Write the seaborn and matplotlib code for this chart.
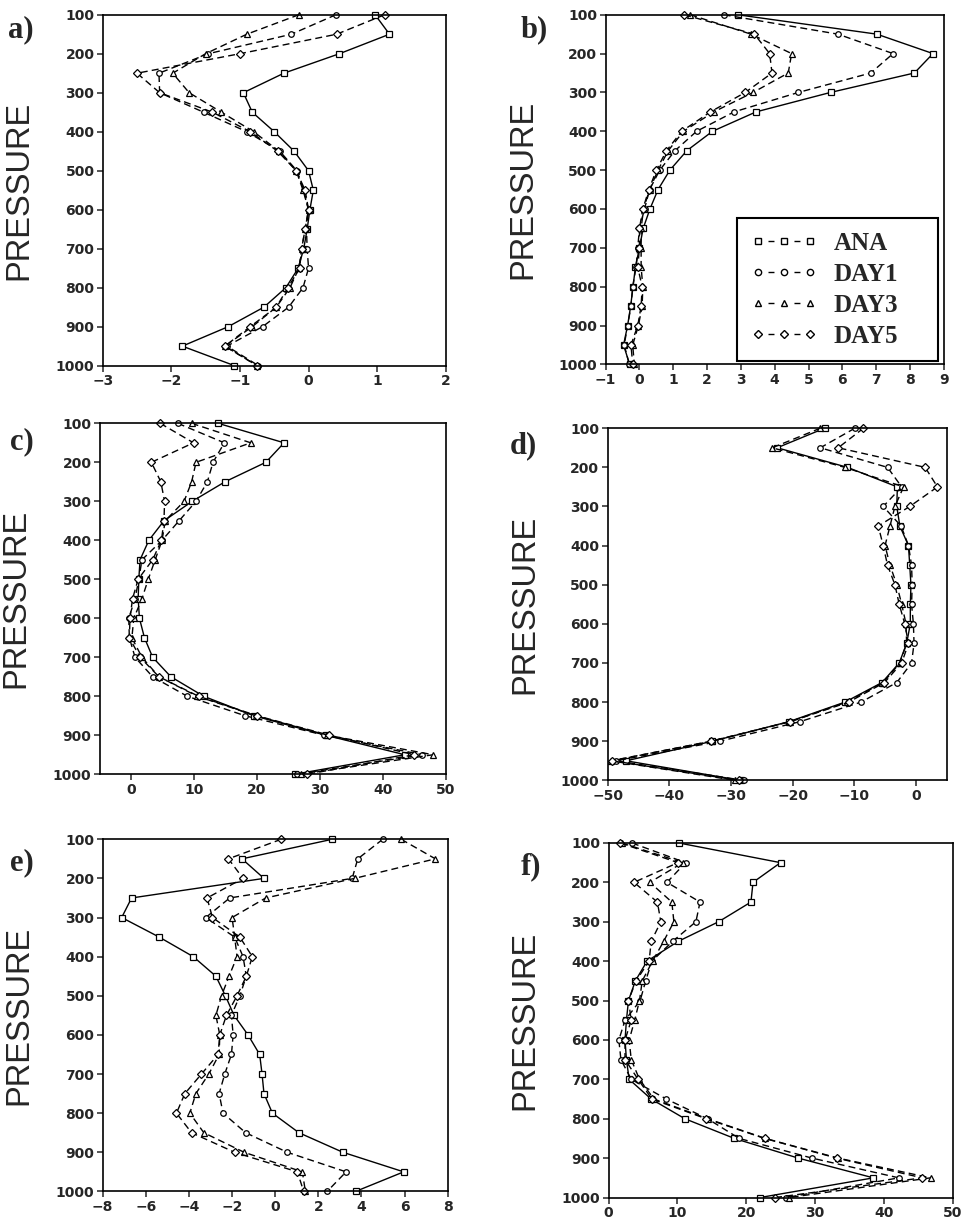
import numpy as np
import pandas as pd
import matplotlib
matplotlib.use("Agg")
import matplotlib.pyplot as plt
from matplotlib.lines import Line2D
import seaborn as sns

# pressure levels (hPa)
pressure = [100, 150, 200, 250, 300, 350, 400, 450, 500, 550,
            600, 650, 700, 750, 800, 850, 900, 950, 1000]
series_names = ["ANA", "DAY1", "DAY3", "DAY5"]

# panel a
a_ana = [0.97, 1.18, 0.45, -0.36, -0.95, -0.82, -0.5, -0.21, 0.0, 0.07,
         0.02, -0.02, -0.07, -0.15, -0.33, -0.65, -1.17, -1.84, -1.08]
a_day1 = [0.40, -0.25, -1.46, -2.18, -2.17, -1.53, -0.9, -0.42, -0.17, -0.07,
          0.0, -0.03, -0.02, 0.0, -0.08, -0.29, -0.67, -1.19, -0.73]
a_day3 = [-0.14, -0.9, -1.5, -1.98, -1.74, -1.27, -0.8, -0.43, -0.18, -0.08,
          0.0, -0.05, -0.1, -0.14, -0.27, -0.47, -0.82, -1.22, -0.75]
a_day5 = [1.11, 0.41, -1.0, -2.5, -2.17, -1.4, -0.85, -0.45, -0.18, -0.05,
          0.0, -0.05, -0.1, -0.13, -0.3, -0.47, -0.85, -1.22, -0.75]

# panel b
b_ana = [2.9, 7.02, 8.68, 8.13, 5.65, 3.45, 2.16, 1.4, 0.9, 0.55,
         0.31, 0.11, 0.0, -0.12, -0.19, -0.26, -0.35, -0.47, -0.29]
b_day1 = [2.49, 5.87, 7.5, 6.84, 4.7, 2.8, 1.69, 1.05, 0.6, 0.3,
          0.15, 0.0, -0.05, -0.1, -0.2, -0.25, -0.35, -0.45, -0.3]
b_day3 = [1.5, 3.3, 4.5, 4.4, 3.36, 2.2, 1.3, 0.85, 0.55, 0.3,
          0.12, 0.05, 0.05, 0.05, 0.1, 0.08, -0.03, -0.2, -0.15]
b_day5 = [1.32, 3.4, 3.85, 3.92, 3.13, 2.1, 1.25, 0.8, 0.5, 0.28,
          0.1, 0.0, 0.0, -0.05, 0.08, 0.05, -0.05, -0.25, -0.2]

# panel c
c_ana = [13.8, 24.3, 21.4, 14.9, 9.7, 5.2, 2.8, 1.4, 1.2, 1.1,
         1.3, 2.1, 3.4, 6.3, 11.5, 19.5, 30.9, 43.5, 26.0]
c_day1 = [7.4, 14.8, 13.0, 12.1, 10.3, 7.6, 4.9, 1.7, 1.2, 0.6,
          -0.4, -0.3, 0.6, 3.4, 8.9, 18.1, 30.7, 46.3, 26.4]
c_day3 = [9.6, 19.0, 10.3, 9.6, 8.4, 5.4, 4.9, 3.8, 2.7, 1.7,
          0.4, 0.1, 1.7, 4.4, 10.5, 19.8, 31.2, 48.0, 27.0]
c_day5 = [4.6, 9.9, 3.2, 4.7, 5.3, 5.2, 4.8, 3.4, 1.1, 0.2,
          -0.2, -0.3, 1.4, 4.4, 10.7, 20.0, 31.5, 45.0, 28.0]

# panel d
d_ana = [-14.8, -22.5, -11.1, -3.0, -3.1, -2.6, -1.2, -1.0, -0.8, -0.9,
         -0.9, -1.5, -2.7, -5.5, -11.5, -20.6, -33.0, -47.0, -28.4]
d_day1 = [-9.9, -15.5, -4.6, -2.3, -5.3, -2.4, -1.2, -0.7, -0.6, -0.7,
          -0.4, -0.3, -0.7, -3.1, -8.9, -18.8, -31.8, -48.6, -27.9]
d_day3 = [-15.5, -23.3, -11.5, -2.0, -3.4, -4.2, -5.0, -4.2, -3.1, -2.3,
          -1.6, -1.5, -2.6, -5.3, -11.2, -20.4, -33.1, -49.5, -29.3]
d_day5 = [-8.5, -12.6, 1.5, 3.5, -1.0, -6.1, -5.3, -4.6, -3.4, -2.7,
          -1.8, -1.2, -2.3, -5.1, -10.9, -20.4, -33.3, -49.2, -28.7]

# panel e
e_ana = [2.65, -1.54, -0.52, -6.66, -7.12, -5.38, -3.8, -2.75, -2.31, -1.91,
         -1.26, -0.72, -0.61, -0.52, -0.13, 1.1, 3.14, 5.96, 3.73]
e_day1 = [4.99, 3.83, 3.57, -2.11, -3.22, -1.88, -1.49, -1.34, -1.64, -2.03,
          -1.95, -2.03, -2.34, -2.6, -2.42, -1.37, 0.56, 3.29, 2.41]
e_day3 = [5.84, 7.43, 3.68, -0.44, -2.0, -1.88, -1.77, -2.14, -2.49, -2.75,
          -2.57, -2.6, -3.08, -3.68, -3.96, -3.31, -1.44, 1.26, 1.4]
e_day5 = [0.28, -2.17, -1.49, -3.16, -2.91, -1.64, -1.06, -1.34, -1.77, -2.26,
          -2.57, -2.65, -3.42, -4.19, -4.58, -3.88, -1.88, 1.03, 1.32]

# panel f
f_ana = [10.2, 25.0, 21.0, 20.7, 16.0, 10.1, 5.6, 3.9, 2.9, 2.6,
         2.4, 2.6, 3.0, 6.2, 11.1, 18.3, 27.6, 38.5, 22.0]
f_day1 = [3.4, 11.2, 8.5, 13.3, 12.7, 9.3, 6.3, 5.4, 4.6, 2.4,
          1.5, 1.8, 3.3, 8.4, 14.4, 19.0, 29.6, 42.2, 25.8]
f_day3 = [1.9, 10.8, 6.0, 9.2, 9.5, 8.0, 6.4, 4.9, 4.5, 3.8,
          3.0, 3.3, 4.5, 6.6, 14.4, 22.8, 33.4, 46.8, 26.2]
f_day5 = [1.7, 10.1, 3.7, 7.1, 7.6, 6.2, 5.9, 4.0, 2.9, 3.3,
          2.4, 2.4, 4.3, 6.3, 14.2, 22.7, 33.2, 45.6, 24.2]

panel_labels = ["a)", "b)", "c)", "d)", "e)", "f)"]
panel_data = [
    [a_ana, a_day1, a_day3, a_day5],
    [b_ana, b_day1, b_day3, b_day5],
    [c_ana, c_day1, c_day3, c_day5],
    [d_ana, d_day1, d_day3, d_day5],
    [e_ana, e_day1, e_day3, e_day5],
    [f_ana, f_day1, f_day3, f_day5],
]
xlims = [(-3, 2), (-1, 9), (-5, 50), (-50, 5), (-8, 8), (0, 50)]
xticks = [np.arange(-3, 3, 1), np.arange(-1, 10, 1), np.arange(0, 51, 10),
          np.arange(-50, 1, 10), np.arange(-8, 9, 2), np.arange(0, 51, 10)]

sns.set_style("ticks")

markers = {"ANA": "s", "DAY1": "o", "DAY3": "^", "DAY5": "D"}
dashes = {"ANA": "", "DAY1": (5, 3), "DAY3": (5, 3), "DAY5": (5, 3)}

fig = plt.figure(figsize=(9.69, 12.27), dpi=100)
axes_pos = [
    [0.106, 0.702, 0.354, 0.286],
    [0.625, 0.703, 0.349, 0.285],
    [0.103, 0.369, 0.357, 0.286],
    [0.627, 0.364, 0.350, 0.287],
    [0.106, 0.029, 0.356, 0.287],
    [0.628, 0.024, 0.355, 0.289],
]
label_pos = [(0.008, 0.976), (0.537, 0.976), (0.010, 0.640),
             (0.526, 0.637), (0.010, 0.297), (0.537, 0.294)]

for i, series in enumerate(panel_data):
    ax = fig.add_axes(axes_pos[i])
    df = pd.DataFrame({
        "pressure": pressure * 4,
        "value": sum(series, []),
        "series": np.repeat(series_names, len(pressure)),
    })
    sns.lineplot(data=df, x="value", y="pressure", style="series",
                 markers=markers, dashes=dashes, color="black",
                 sort=False, estimator=None, legend=False, ax=ax,
                 markersize=4, markerfacecolor="white",
                 markeredgecolor="black", markeredgewidth=0.9,
                 linewidth=1.0, clip_on=False)
    ax.set_xlim(*xlims[i])
    ax.set_ylim(1000, 100)
    ax.set_xticks(xticks[i])
    ax.set_yticks(range(100, 1001, 100))
    ax.set_xlabel("")
    ax.set_ylabel("PRESSURE", fontsize=23.5, family="Liberation Sans")
    ax.yaxis.set_label_coords(-0.198, 0.5)
    ax.tick_params(direction="out", length=4, width=1.1, labelsize=10, pad=2)
    for lab in ax.get_xticklabels() + ax.get_yticklabels():
        lab.set_fontweight("bold")
    for sp in ax.spines.values():
        sp.set_linewidth(1.2)
        sp.set_color("black")
    fig.text(label_pos[i][0], label_pos[i][1], panel_labels[i],
             fontsize=22, fontweight="bold", family="Liberation Serif",
             va="center", ha="left")

    if i == 1:
        # short dash between each pair of legend markers, like "o-o-o"
        handles = [Line2D([], [], color="black", linestyle=(11.5, (4.3, 14.4)), linewidth=1.0,
                          marker=markers[n], markersize=4.5,
                          markerfacecolor="white", markeredgecolor="black")
                   for n in series_names]
        leg = ax.legend(handles, series_names, loc="lower left",
                        bbox_to_anchor=(0.388, 0.009, 0.594, 0.422), mode="expand",
                        borderaxespad=0, numpoints=3, handlelength=2.68,
                        handletextpad=0.65, labelspacing=0.32, borderpad=0.55,
                        fancybox=False, framealpha=1, edgecolor="black",
                        prop={"family": "Liberation Serif", "weight": "bold", "size": 18})
        leg.get_frame().set_linewidth(1.5)

fig.savefig("out.png", dpi=100)
